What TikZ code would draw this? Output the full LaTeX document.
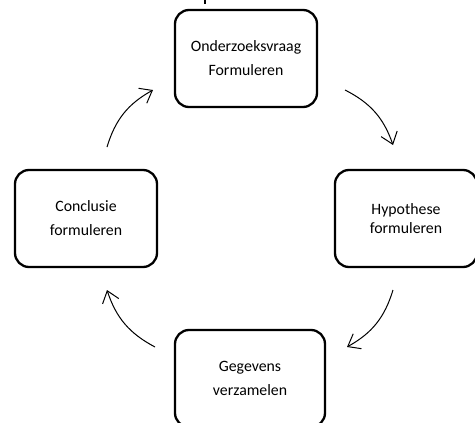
\documentclass[tikz,border=0pt]{standalone}
\usepackage{fontspec}
\setmainfont{Carlito}
\usetikzlibrary{arrows.meta}
\definecolor{color_cycle_box}{HTML}{000000}
\definecolor{color_cycle_arrow}{HTML}{000000}
\def\cycleboxlinewidth{2.3pt}
\def\cyclearrowlinewidth{1pt}
\def\cycleboxwidth{142pt}
\def\cycleboxheight{97pt}
\def\cycleboxradius{14pt}
\tikzset{
    cyclebox/.style={draw=color_cycle_box, line width=\cycleboxlinewidth, rounded corners=\cycleboxradius,
        minimum width=\cycleboxwidth, minimum height=\cycleboxheight, align=center,
        font=\fontsize{15.8}{24}\selectfont},
    cyclearrow/.style={draw=color_cycle_arrow, line width=\cyclearrowlinewidth,
        -{Straight Barb[length=11pt,width=17pt]}, bend left=22}
}

\begin{document}
\begin{tikzpicture}[x=1pt,y=-1pt]
        \useasboundingbox (0,0) rectangle (475,423);
        % the four steps
        \node[cyclebox] (vraag) at (246,58.5) {Onderzoeksvraag\\Formuleren};
        \node[cyclebox, font=\fontsize{15.8}{19}\selectfont] (hypo) at (406,218.5) {Hypothese\\formuleren};
        \node[cyclebox, minimum width=150pt] (data) at (250,378.5) {Gegevens\\verzamelen};
        \node[cyclebox] (concl) at (86,218.5) {Conclusie\\formuleren};
        % free ends of the arrows
        \coordinate (a1) at (345,90);
        \coordinate (b1) at (393,145);
        \coordinate (a2) at (393,290);
        \coordinate (b2) at (347,347);
        \coordinate (a3) at (155,347);
        \coordinate (b3) at (107,290);
        \coordinate (a4) at (107,147);
        \coordinate (b4) at (153,90);
        \draw[cyclearrow] (a1) to (b1);
        \draw[cyclearrow] (a2) to (b2);
        \draw[cyclearrow] (a3) to (b3);
        \draw[cyclearrow] (a4) to (b4);
        % cut off mark at the top
        \coordinate (t1) at (205,0);
        \coordinate (t2) at (205,4);
        \draw[line width=1.3pt] (t1) -- (t2);
    \end{tikzpicture}
\end{document}
